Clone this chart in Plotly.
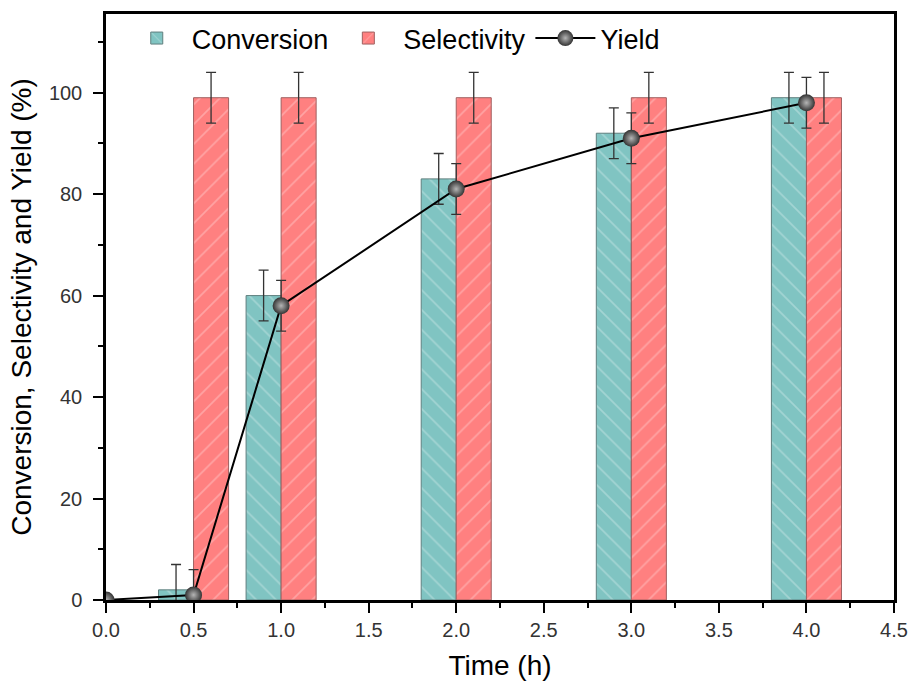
import plotly.graph_objects as go

# Data
time_h = [0.5, 1.0, 2.0, 3.0, 4.0]
conversion = [2, 60, 83, 92, 99]
conversion_err = [5, 5, 5, 5, 5]
selectivity = [99, 99, 99, 99, 99]
selectivity_err = [5, 5, 5, 5, 5]
yield_time = [0.0, 0.5, 1.0, 2.0, 3.0, 4.0]
yield_vals = [0, 1, 58, 81, 91, 98]
yield_err = [0, 5, 5, 5, 5, 5]

teal = "#80c4c2"
red = "#ff8080"
err_style = dict(type="data", visible=True, color="#333333", thickness=1.3, width=5)

fig = go.Figure()
fig.add_trace(go.Bar(
    x=time_h, y=conversion, name="Conversion",
    width=0.2, offset=-0.2,
    marker=dict(color=teal, line=dict(color="#5f7f7e", width=1),
                pattern=dict(shape="\\", fgcolor="rgba(255,255,255,0.55)", bgcolor=teal,
                             size=14, solidity=0.12)),
    error_y=dict(array=conversion_err, **err_style),
))
fig.add_trace(go.Bar(
    x=time_h, y=selectivity, name="Selectivity",
    width=0.2, offset=0.0,
    marker=dict(color=red, line=dict(color="#a06060", width=1),
                pattern=dict(shape="/", fgcolor="rgba(255,255,255,0.55)", bgcolor=red,
                             size=14, solidity=0.12)),
    error_y=dict(array=selectivity_err, **err_style),
))
fig.add_trace(go.Scatter(
    x=yield_time, y=yield_vals, name="Yield", mode="lines+markers",
    line=dict(color="black", width=2),
    marker=dict(size=17, color="#333333",
                gradient=dict(type="radial", color="#b5b5b5"),
                line=dict(width=0)),
    error_y=dict(array=yield_err, **err_style),
))

axis_common = dict(
    showline=True, linecolor="black", linewidth=2.5, mirror=True,
    ticks="outside", ticklen=10, tickwidth=2, tickcolor="black",
    showgrid=False, zeroline=False, automargin=False,
    tickfont=dict(family="Liberation Sans, Arial", size=20, color="#333333"),
    title_font=dict(family="Liberation Sans, Arial", size=28, color="black"),
)

fig.update_layout(
    width=912, height=686,
    margin=dict(l=106, r=18, t=14, b=86),
    plot_bgcolor="white", paper_bgcolor="white",
    barmode="overlay",
    legend=dict(orientation="h", x=0.02, y=1.0, xanchor="left", yanchor="top",
                font=dict(family="Liberation Sans, Arial", size=27, color="black"),
                bgcolor="rgba(0,0,0,0)", itemwidth=60, tracegroupgap=0),
    xaxis=dict(range=[0, 4.5], dtick=0.5, tickformat=".1f", title_text="Time (h)",
               minor=dict(dtick=0.25, ticks="outside", ticklen=5, tickwidth=2, tickcolor="black"),
               title_standoff=16, **axis_common),
    yaxis=dict(range=[0, 115.5], dtick=20, tick0=0, title_text="Conversion, Selectivity and Yield (%)",
               minor=dict(dtick=10, ticks="outside", ticklen=5, tickwidth=2, tickcolor="black"),
               ticklabelstandoff=7, title_standoff=10, **axis_common),
)

fig.write_html("out.html")
